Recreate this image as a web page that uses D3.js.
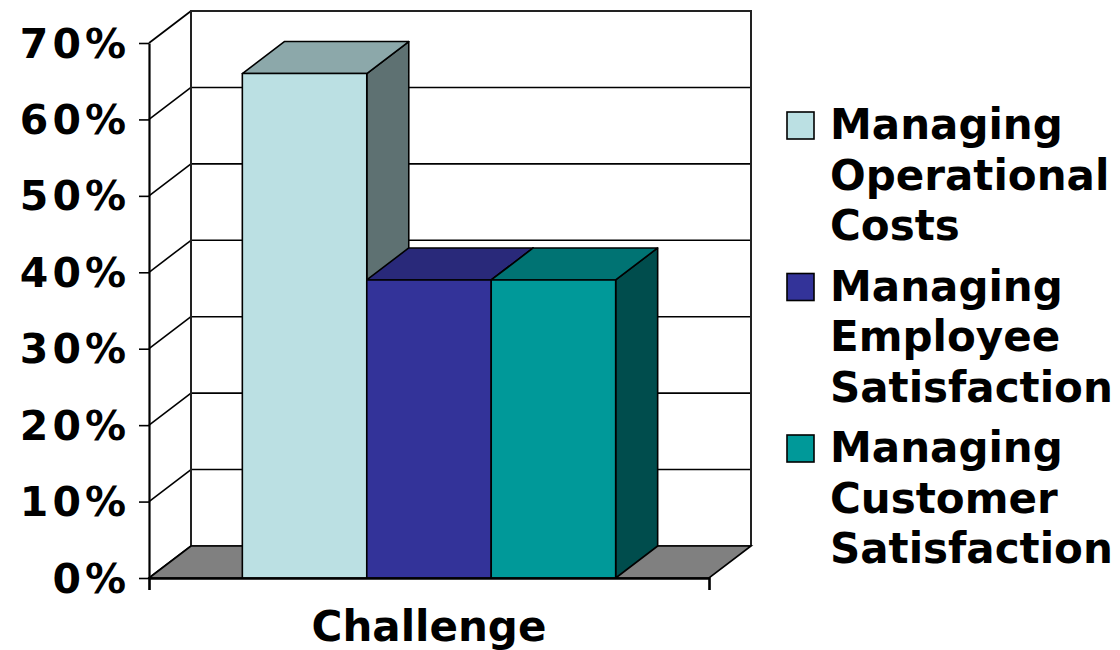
<!DOCTYPE html>
<html>
<head>
<meta charset="utf-8">
<script src="https://cdn.jsdelivr.net/npm/d3@7"></script>
<style>
  html, body { margin: 0; padding: 0; background: #fff; }
  svg text { font-family: "DejaVu Sans", Verdana, sans-serif; font-weight: bold; fill: #000; }
</style>
</head>
<body>
<div id="chart"></div>
<script>
// data
const categories = ['Challenge'];
const seriesNames = [
  'Managing Operational Costs',
  'Managing Employee Satisfaction',
  'Managing Customer Satisfaction'
];
const seriesValues = [0.66, 0.39, 0.39];
const yTicks = [0, 0.1, 0.2, 0.3, 0.4, 0.5, 0.6, 0.7];

// face colours: front, top, side
const palette = [
  { front: '#bbe0e3', top: '#8ca8aa', side: '#5e7172' },
  { front: '#333399', top: '#29297a', side: '#1f1f5c' },
  { front: '#009999', top: '#007373', side: '#004d4d' }
];

const width = 1120;
const height = 650;
const plot = { left: 149, right: 709, top: 43, bottom: 578 };
const depth = { dx: 42, dy: -32 };

const svg = d3.select('#chart').append('svg')
  .attr('width', width)
  .attr('height', height);

const y = d3.scaleLinear().domain([0, 0.7]).range([plot.bottom, plot.top]);
const x0 = d3.scaleBand().domain(categories)
  .range([plot.left, plot.right])
  .paddingInner(0).paddingOuter(0.25);
const x1 = d3.scaleBand().domain(seriesNames).range([0, x0.bandwidth()]);

const pts = a => a.map(p => p.join(',')).join(' ');

// WALLS
const walls = svg.append('g');
// back wall
walls.append('rect')
  .attr('x', plot.left + depth.dx).attr('y', plot.top + depth.dy)
  .attr('width', plot.right - plot.left).attr('height', plot.bottom - plot.top)
  .attr('fill', '#fff');

// back wall gridlines
walls.selectAll('line.grid')
  .data(yTicks).enter()
  .append('line')
  .attr('class', 'grid')
  .attr('x1', plot.left + depth.dx).attr('x2', plot.right + depth.dx)
  .attr('y1', d => y(d) + depth.dy).attr('y2', d => y(d) + depth.dy)
  .attr('stroke', '#000').attr('stroke-width', 1.6);

// side wall diagonals
walls.selectAll('line.diag')
  .data(yTicks).enter()
  .append('line')
  .attr('class', 'diag')
  .attr('x1', plot.left).attr('y1', d => y(d))
  .attr('x2', plot.left + depth.dx).attr('y2', d => y(d) + depth.dy)
  .attr('stroke', '#000').attr('stroke-width', 1.6);

// back wall frame: left edge, top, right edge
walls.append('polyline')
  .attr('points', pts([
    [plot.left + depth.dx, y(0) + depth.dy],
    [plot.left + depth.dx, y(0.7) + depth.dy],
    [plot.right + depth.dx, y(0.7) + depth.dy],
    [plot.right + depth.dx, y(0) + depth.dy]
  ]))
  .attr('fill', 'none').attr('stroke', '#222').attr('stroke-width', 2);

// floor
walls.append('polygon')
  .attr('points', pts([
    [plot.left, y(0)],
    [plot.left + depth.dx, y(0) + depth.dy],
    [plot.right + depth.dx, y(0) + depth.dy],
    [plot.right, y(0)]
  ]))
  .attr('fill', '#808080').attr('stroke', '#000').attr('stroke-width', 1.6);

// BARS
const bars = svg.append('g');
seriesNames.forEach((name, i) => {
  const v = seriesValues[i];
  const xl = x0(categories[0]) + x1(name);
  const xr = xl + x1.bandwidth();
  const yt = y(v);
  const yb = y(0);
  const c = palette[i];
  const g = bars.append('g').attr('class', 'bar');
  g.append('polygon')
    .attr('points', pts([[xr, yb], [xr + depth.dx, yb + depth.dy], [xr + depth.dx, yt + depth.dy], [xr, yt]]))
    .attr('fill', c.side);
  g.append('polygon')
    .attr('points', pts([[xl, yt], [xl + depth.dx, yt + depth.dy], [xr + depth.dx, yt + depth.dy], [xr, yt]]))
    .attr('fill', c.top);
  g.append('rect')
    .attr('x', xl).attr('y', yt)
    .attr('width', xr - xl).attr('height', yb - yt)
    .attr('fill', c.front);
  g.selectAll('polygon, rect')
    .attr('stroke', '#000').attr('stroke-width', 1.6).attr('stroke-linejoin', 'round');
});

// AXES
const yAxis = svg.append('g')
  .attr('transform', `translate(${plot.left},0)`)
  .call(d3.axisLeft(y).tickValues(yTicks).tickFormat(d3.format('.0%'))
    .tickSize(10).tickSizeOuter(0).tickPadding(9));
yAxis.select('.domain').attr('stroke', '#000').attr('stroke-width', 2.2);
yAxis.selectAll('.tick line').attr('stroke', '#000').attr('stroke-width', 1.6);
yAxis.selectAll('.tick text')
  .attr('font-size', 41)
  .attr('letter-spacing', 4)
  .attr('dy', 14)
  .style('font-family', '"DejaVu Sans", Verdana, sans-serif')
  .style('font-weight', 'bold');

const xAxis = svg.append('g')
  .attr('transform', `translate(0,${plot.bottom})`)
  .call(d3.axisBottom(x0).tickSize(0).tickSizeOuter(12).tickPadding(33));
xAxis.select('.domain').attr('stroke', '#000').attr('stroke-width', 2.6);
xAxis.selectAll('.tick text')
  .attr('font-size', 42)
  .style('font-family', '"DejaVu Sans", Verdana, sans-serif')
  .style('font-weight', 'bold');

// LEGEND
const legend = svg.append('g').attr('transform', 'translate(787,112)');
const item = legend.selectAll('g.item')
  .data(seriesNames).enter()
  .append('g')
  .attr('class', 'item')
  .attr('transform', (d, i) => `translate(0,${i * 161.5})`);
item.append('rect')
  .attr('width', 27).attr('height', 27)
  .attr('fill', (d, i) => palette[i].front)
  .attr('stroke', '#000').attr('stroke-width', 1.6);
item.append('text')
  .attr('x', 43).attr('y', 27)
  .attr('font-size', 42)
  .selectAll('tspan')
  .data(d => d.split(' ')).enter()
  .append('tspan')
  .attr('x', 43)
  .attr('dy', (d, j) => j === 0 ? 0 : 50.5)
  .text(d => d);
</script>
</body>
</html>
